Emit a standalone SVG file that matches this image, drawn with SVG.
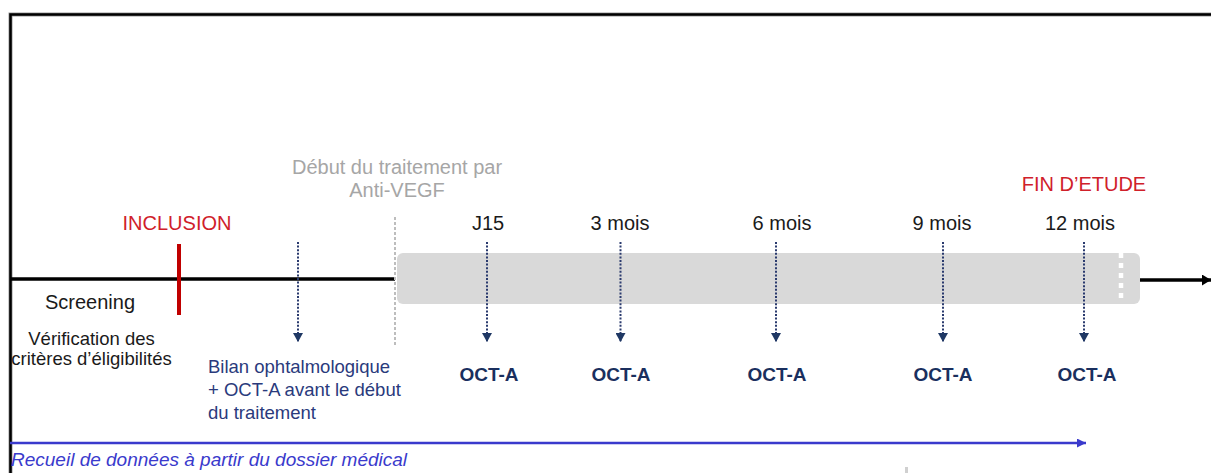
<svg xmlns="http://www.w3.org/2000/svg" width="1211" height="473" viewBox="0 0 1211 473">
<style>
text{font-family:"Liberation Sans",Arial,sans-serif}
.lbl{font-size:20px;fill:#1a1a1a;text-anchor:middle}
.red{font-size:20px;fill:#d0202a;text-anchor:middle}
.gray{font-size:20px;fill:#a6a6a6;text-anchor:middle}
.oct{font-size:19px;font-weight:bold;fill:#1a2f5e;text-anchor:middle}
.navy{font-size:18.5px;fill:#2a3a7c}
.blk{font-size:18.5px;fill:#1a1a1a;text-anchor:middle}
.rec{font-size:19px;font-style:italic;fill:#3a3acc}
.dot{stroke:#2a3a6e;stroke-width:2;stroke-dasharray:2 1.6;fill:none}
</style>
<defs>
<marker id="navyHead" markerUnits="userSpaceOnUse" markerWidth="9" markerHeight="10" viewBox="0 0 9 10" refX="9" refY="5" orient="auto"><path d="M0,0 L9,5 L0,10 z" fill="#1f3864"/></marker>
<marker id="blackHead" markerUnits="userSpaceOnUse" markerWidth="9" markerHeight="11" viewBox="0 0 9 11" refX="9" refY="5.5" orient="auto"><path d="M0,0 L9,5.5 L0,11 z" fill="#000"/></marker>
<marker id="blueHead" markerUnits="userSpaceOnUse" markerWidth="9" markerHeight="9" viewBox="0 0 9 9" refX="9" refY="4.5" orient="auto"><path d="M0,0 L9,4.5 L0,9 z" fill="#3a3acc"/></marker>
</defs>
<rect width="1211" height="473" fill="#fff"/>

<g id="frame">
<path d="M10.5,473 V14.5 H1211" fill="none" stroke="#9a9a9a" stroke-width="4"/>
<path d="M10.5,473 V14.5 H1211" fill="none" stroke="#000" stroke-width="2.5"/>
</g>

<g id="treatment-period">
<rect x="397" y="253" width="743" height="51" rx="6" fill="#d9d9d9"/>
<line x1="1121" y1="253" x2="1121" y2="299" stroke="#fff" stroke-width="4.5" stroke-dasharray="5 5"/>
</g>

<g id="connectors">
<line x1="10" y1="279" x2="395" y2="279" stroke="#000" stroke-width="3.5"/>
<line x1="1140" y1="280" x2="1211" y2="280" stroke="#000" stroke-width="3.5" marker-end="url(#blackHead)"/>
<line x1="395" y1="217" x2="395" y2="346" stroke="#bdbdbd" stroke-width="2" stroke-dasharray="3 2"/>
<line class="dot" x1="298" y1="242" x2="298" y2="342" marker-end="url(#navyHead)"/>
<line class="dot" x1="487" y1="242" x2="487" y2="342" marker-end="url(#navyHead)"/>
<line class="dot" x1="620.5" y1="242" x2="620.5" y2="342" marker-end="url(#navyHead)"/>
<line class="dot" x1="776" y1="242" x2="776" y2="342" marker-end="url(#navyHead)"/>
<line class="dot" x1="943" y1="242" x2="943" y2="342" marker-end="url(#navyHead)"/>
<line class="dot" x1="1084" y1="242" x2="1084" y2="342" marker-end="url(#navyHead)"/>
<line x1="10" y1="443" x2="1086" y2="443" stroke="#3a3acc" stroke-width="2.5" marker-end="url(#blueHead)"/>
</g>

<g id="inclusion">
<text class="red" x="177" y="230">INCLUSION</text>
<rect x="177" y="244" width="4" height="71" fill="#c00000"/>
</g>

<g id="screening">
<text class="lbl" x="90" y="309">Screening</text>
<text class="blk" x="91.5" y="345">Vérification des</text>
<text class="blk" x="91.5" y="365">critères d’éligibilités</text>
</g>

<g id="bilan">
<text class="navy" x="208" y="373">Bilan ophtalmologique</text>
<text class="navy" x="208" y="396">+ OCT-A  avant le début</text>
<text class="navy" x="208" y="419">du traitement</text>
</g>

<g id="debut-traitement">
<text class="gray" x="397" y="174">Début du traitement par</text>
<text class="gray" x="397" y="197">Anti-VEGF</text>
</g>

<g id="j15">
<text class="lbl" x="488" y="230">J15</text>
<text class="oct" x="489" y="381">OCT-A</text>
</g>
<g id="m3">
<text class="lbl" x="620" y="230">3 mois</text>
<text class="oct" x="621" y="381">OCT-A</text>
</g>
<g id="m6">
<text class="lbl" x="782" y="230">6 mois</text>
<text class="oct" x="777" y="381">OCT-A</text>
</g>
<g id="m9">
<text class="lbl" x="942" y="230">9 mois</text>
<text class="oct" x="943" y="381">OCT-A</text>
</g>
<g id="m12">
<text class="red" x="1084" y="191">FIN D’ETUDE</text>
<text class="lbl" x="1080" y="230">12 mois</text>
<text class="oct" x="1087" y="381">OCT-A</text>
</g>

<g id="recueil">
<text class="rec" x="11" y="466">Recueil de données à partir du dossier médical</text>
</g>

<rect id="tick" x="905" y="467" width="3" height="6" fill="#d0d0d0"/>
</svg>
